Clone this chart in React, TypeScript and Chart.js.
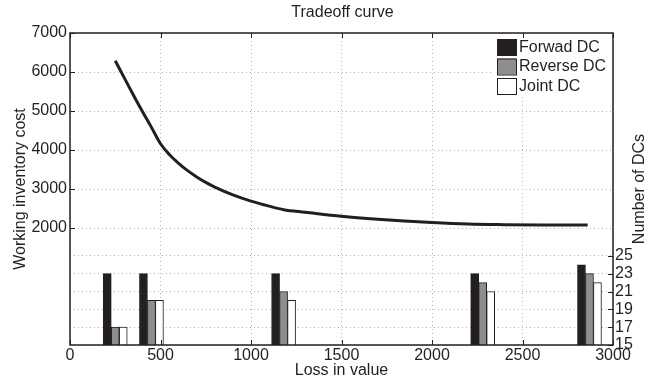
import React, { useEffect, useRef } from 'react';
import { Chart, registerables } from 'chart.js';

Chart.register(...registerables);

// ---- data ----
const groupX = [250, 450, 1180, 2280, 2870];
const forwardDC = [23, 23, 23, 23, 24];
const reverseDC = [17, 20, 21, 22, 23];
const jointDC = [17, 20, 20, 21, 22];

const curveX = [250, 300, 350, 400, 450, 500, 550, 600, 650, 700, 750, 800, 900, 1000, 1100, 1180, 1300, 1500, 1700, 2000, 2200, 2400, 2600, 2860];
const curveY = [6290, 5850, 5410, 4985, 4580, 4160, 3880, 3660, 3470, 3310, 3170, 3050, 2850, 2690, 2560, 2470, 2405, 2300, 2225, 2140, 2100, 2085, 2078, 2078];

const xTicks = [0, 500, 1000, 1500, 2000, 2500, 3000];
const leftTicks = [2000, 3000, 4000, 5000, 6000, 7000];
const rightTicks = [15, 17, 19, 21, 23, 25];

const legendLabels = ['Forwad DC', 'Reverse DC', 'Joint DC'];
const titleText = 'Tradeoff curve';
const xTitle = 'Loss in value';
const yLeftTitle = 'Working inventory cost';
const yRightTitle = 'Number of DCs';

// ---- styles ----
const INK = '#231f20';
const BAR_COLORS = ['#231f20', '#8e8e8e', '#ffffff'];
const GRID = '#b4b4b4';
const FONT_FAMILY = "'Liberation Sans', Arial, Helvetica, sans-serif";
const FONT_SIZE = 16;

const plain = (v: any) => String(v);

const decor = {
  id: 'decor',
  afterDatasetsDraw(chart: any) {
    const ctx = chart.ctx;
    ctx.save();
    ctx.fillStyle = '#ffffff';
    ctx.fillRect(493, 37, 119, 59);
    const rows = [39, 58.5, 78];
    ctx.font = `${FONT_SIZE}px ${FONT_FAMILY}`;
    ctx.textBaseline = 'middle';
    ctx.textAlign = 'left';
    legendLabels.forEach((lab, i) => {
      const y = rows[i];
      ctx.fillStyle = BAR_COLORS[i];
      ctx.fillRect(497, y, 19, 16);
      ctx.strokeStyle = INK;
      ctx.lineWidth = 1;
      ctx.strokeRect(497.5, y + 0.5, 19, 16);
      ctx.fillStyle = INK;
      ctx.fillText(lab, 519, y + 8.5);
    });
    ctx.restore();
  },
  afterDraw(chart: any) {
    const ctx = chart.ctx;
    const a = chart.chartArea;
    const sx = chart.scales.x;
    const sy = chart.scales.y;
    const sy2 = chart.scales.y2;
    ctx.save();
    ctx.strokeStyle = INK;
    ctx.lineWidth = 1;
    const TL = 5;
    ctx.beginPath();
    xTicks.forEach((v) => {
      const px = Math.round(sx.getPixelForValue(v)) + 0.5;
      ctx.moveTo(px, a.bottom);
      ctx.lineTo(px, a.bottom - TL);
      ctx.moveTo(px, a.top);
      ctx.lineTo(px, a.top + TL);
    });
    leftTicks.forEach((v) => {
      const py = Math.round(sy.getPixelForValue(v)) + 0.5;
      ctx.moveTo(a.left, py);
      ctx.lineTo(a.left + TL, py);
    });
    rightTicks.forEach((v) => {
      const py = Math.round(sy2.getPixelForValue(v)) + 0.5;
      ctx.moveTo(a.right, py);
      ctx.lineTo(a.right - TL, py);
    });
    ctx.stroke();
    ctx.lineWidth = 1.5;
    ctx.strokeRect(a.left, a.top, a.right - a.left, a.bottom - a.top);

    ctx.fillStyle = INK;
    ctx.font = `${FONT_SIZE}px ${FONT_FAMILY}`;
    ctx.textAlign = 'center';
    ctx.textBaseline = 'middle';
    ctx.fillText(titleText, (a.left + a.right) / 2 + 1, 13);
    ctx.fillText(xTitle, (a.left + a.right) / 2, 371);
    const cy = (a.top + a.bottom) / 2;
    ctx.save();
    ctx.translate(21, cy);
    ctx.rotate(-Math.PI / 2);
    ctx.fillText(yLeftTitle, 0, 0);
    ctx.restore();
    ctx.save();
    ctx.translate(640, cy);
    ctx.rotate(-Math.PI / 2);
    ctx.fillText(yRightTitle, 0, 0);
    ctx.restore();
    ctx.restore();
  },
};

export default function App() {
  const ref = useRef<HTMLCanvasElement>(null);
  useEffect(() => {
    const canvas = ref.current;
    if (!canvas) return;
    const barSets = [forwardDC, reverseDC, jointDC].map((vals, i) => ({
      type: 'bar' as const,
      label: legendLabels[i],
      data: groupX.map((x, j) => ({ x, y: vals[j] })),
      backgroundColor: BAR_COLORS[i],
      borderColor: INK,
      borderWidth: 1,
      barThickness: 8,
      xAxisID: 'x',
      yAxisID: 'y2',
      order: 2,
    }));
    const chart = new Chart(canvas, {
      type: 'bar',
      data: {
        datasets: [
          {
            type: 'line' as const,
            label: 'curve',
            data: curveX.map((x, i) => ({ x, y: curveY[i] })),
            borderColor: INK,
            borderWidth: 3,
            pointRadius: 0,
            cubicInterpolationMode: 'monotone',
            fill: false,
            xAxisID: 'x',
            yAxisID: 'y',
            order: 1,
          },
          ...barSets,
        ] as any,
      },
      options: {
        animation: false,
        responsive: true,
        maintainAspectRatio: false,
        devicePixelRatio: 1,
        layout: { padding: { top: 33, left: 0, right: 0, bottom: 0 } },
        plugins: {
          legend: { display: false },
          title: { display: false },
          tooltip: { enabled: false },
        },
        scales: {
          x: {
            type: 'linear',
            min: 0,
            max: 3000,
            offset: false,
            afterBuildTicks: (s: any) => {
              s.ticks = xTicks.map((v) => ({ value: v }));
            },
            afterFit: (s: any) => {
              s.height = 38;
            },
            grid: { color: GRID, lineWidth: 1, drawTicks: false, offset: false },
            border: { display: false, dash: [1, 3] },
            ticks: {
              color: INK,
              font: { family: FONT_FAMILY, size: FONT_SIZE },
              padding: 1,
              maxRotation: 0,
              autoSkip: false,
              callback: plain,
            },
          },
          y: {
            type: 'linear',
            position: 'left',
            min: -1000,
            max: 7000,
            afterBuildTicks: (s: any) => {
              s.ticks = leftTicks.map((v) => ({ value: v }));
            },
            afterFit: (s: any) => {
              s.width = 70;
            },
            grid: { color: GRID, lineWidth: 1, drawTicks: false },
            border: { display: false, dash: [1, 3] },
            ticks: {
              color: INK,
              font: { family: FONT_FAMILY, size: FONT_SIZE },
              padding: 3,
              callback: plain,
            },
          },
          y2: {
            type: 'linear',
            position: 'right',
            min: 15,
            max: 50,
            beginAtZero: false,
            afterBuildTicks: (s: any) => {
              s.ticks = rightTicks.map((v) => ({ value: v }));
            },
            afterFit: (s: any) => {
              s.width = 35;
            },
            grid: { color: GRID, lineWidth: 1, drawTicks: false, drawOnChartArea: true },
            border: { display: false, dash: [1, 3] },
            ticks: {
              color: INK,
              font: { family: FONT_FAMILY, size: FONT_SIZE },
              padding: 2,
              callback: plain,
            },
          },
        },
      } as any,
      plugins: [decor],
    });
    return () => chart.destroy();
  }, []);
  return (
    <div style={{ position: 'absolute', left: 0, top: 0, width: 648, height: 383, background: '#ffffff' }}>
      <canvas ref={ref} />
    </div>
  );
}
